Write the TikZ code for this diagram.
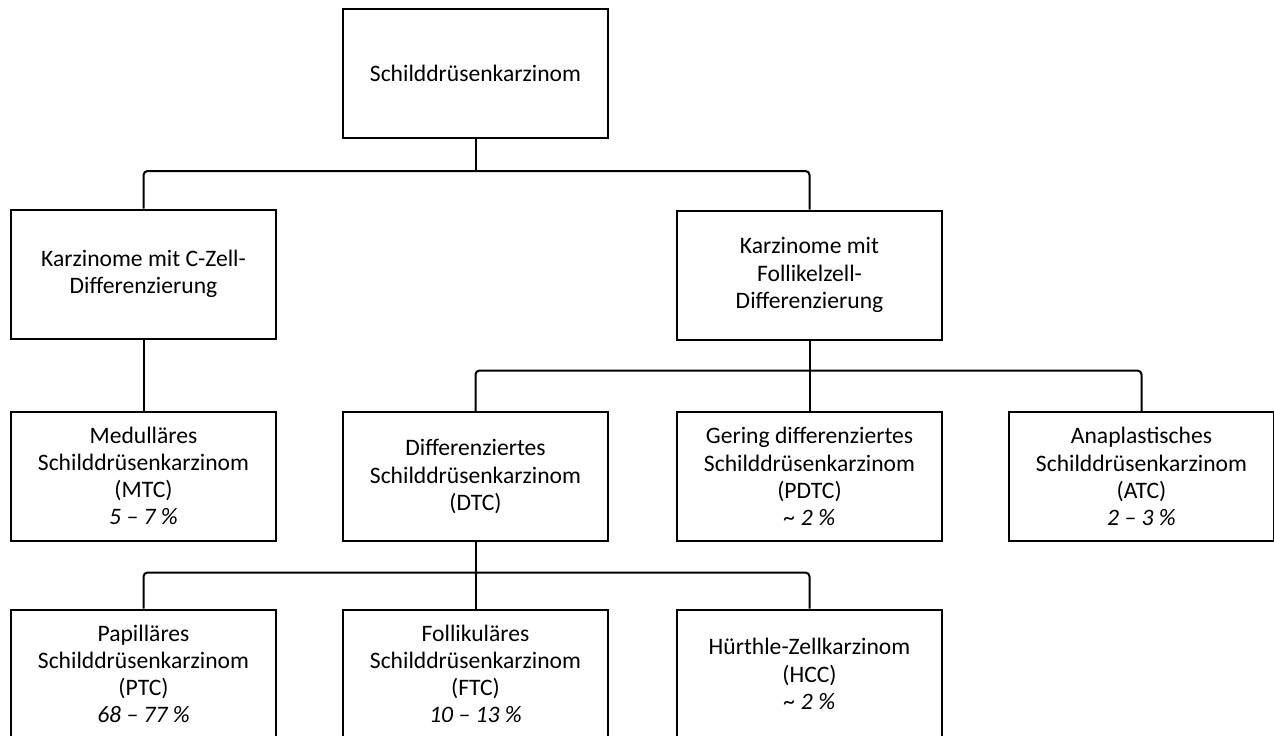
\documentclass[tikz,border=0pt]{standalone}
\usepackage{fontspec}
\setmainfont{Carlito}
\usepackage{tikz}

\tikzset{
  box/.style={draw, line width=1pt, minimum width=132.5pt, minimum height=64.5pt,
    align=center, inner sep=2pt, font=\fontsize{11.8}{13.6}\selectfont},
  conn/.style={line width=1pt, rounded corners=2pt}
}
\newcommand{\pct}[1]{\textit{#1}}

\begin{document}
\begin{tikzpicture}[x=0.5pt, y=-0.5pt]
    \useasboundingbox (0,0) rectangle (1274,735);

    \node[box] (root) at (475.5,73.5) {Schilddrüsenkarzinom};

    \node[box] (czell) at (143.5,274) {Karzinome mit C-Zell-\\Differenzierung};
    \node[box] (fzell) at (809.5,275) {Karzinome mit\\Follikelzell-\\Differenzierung};

    \node[box] (mtc) at (143.5,476) {Medulläres\\Schilddrüsenkarzinom\\(MTC)\\\pct{5 – 7 \%}};
    \node[box] (dtc) at (475.5,476.5) {Differenziertes\\Schilddrüsenkarzinom\\(DTC)};
    \node[box] (pdtc) at (809.5,476.5) {Gering differenziertes\\Schilddrüsenkarzinom\\(PDTC)\\\pct{\textasciitilde{} 2 \%}};
    \node[box] (atc) at (1141.5,476.5) {Anaplastisches\\Schilddrüsenkarzinom\\(ATC)\\\pct{2 – 3 \%}};

    \node[box] (ptc) at (143.5,674) {Papilläres\\Schilddrüsenkarzinom\\(PTC)\\\pct{68 – 77 \%}};
    \node[box] (ftc) at (475.5,674) {Follikuläres\\Schilddrüsenkarzinom\\(FTC)\\\pct{10 – 13 \%}};
    \node[box] (hcc) at (809.5,674) {Hürthle-Zellkarzinom\\(HCC)\\\pct{\textasciitilde{} 2 \%}};

    \coordinate (bus1) at (475.5,171);
    \coordinate (bus2) at (809.5,370.5);
    \coordinate (bus3) at (475.5,572.5);

    \draw[conn] (root.south) -- (bus1);
    \draw[conn] (czell.north) |- (bus1) -| (fzell.north);

    \draw[conn] (czell.south) -- (mtc.north);

    \draw[conn] (fzell.south) -- (bus2);
    \draw[conn] (dtc.north) |- (bus2) -| (atc.north);
    \draw[conn] (pdtc.north) -- (bus2);

    \draw[conn] (dtc.south) -- (bus3);
    \draw[conn] (ptc.north) |- (bus3) -| (hcc.north);
    \draw[conn] (ftc.north) -- (bus3);
\end{tikzpicture}
\end{document}
